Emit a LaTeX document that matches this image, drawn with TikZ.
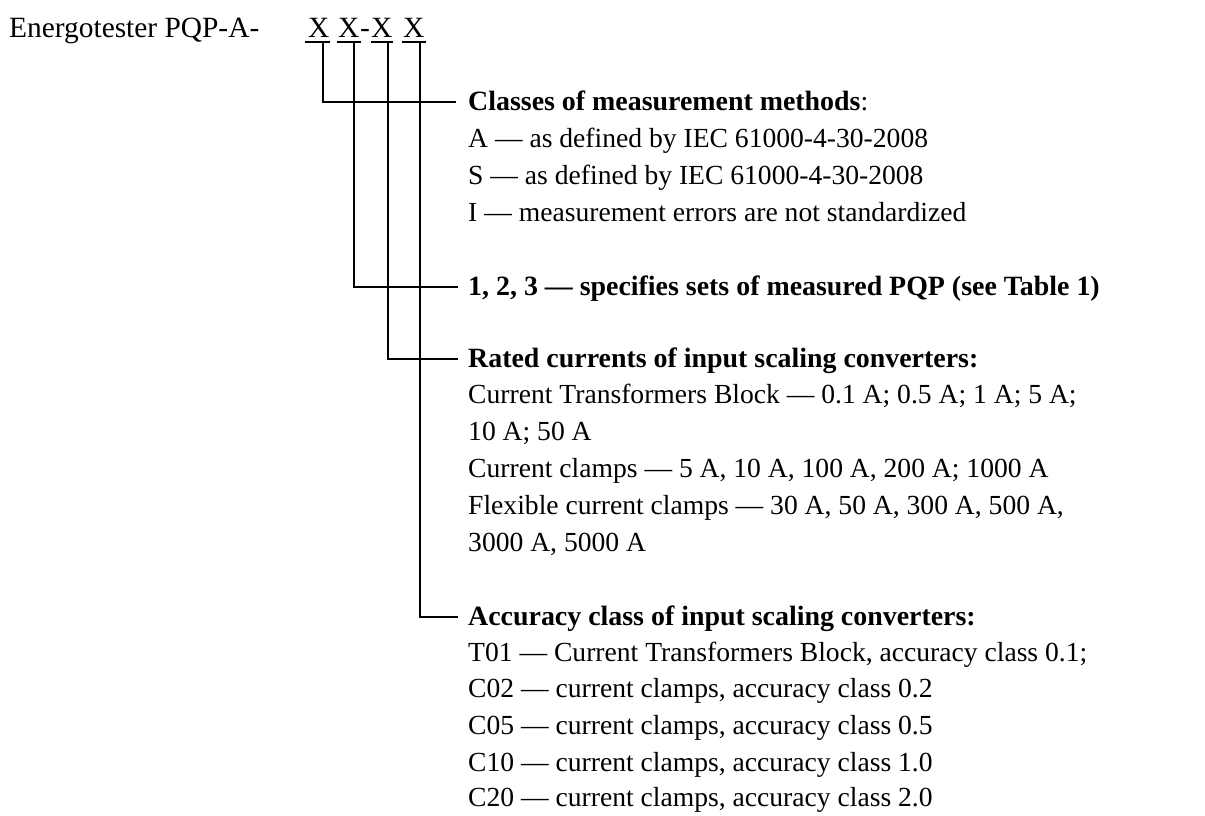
\documentclass[tikz,border=0pt]{standalone}
\usepackage{fontspec}
\setmainfont{Liberation Serif}
\begin{document}
\begin{tikzpicture}[x=1pt,y=-1pt,
  txt/.style={anchor=base west,inner sep=0pt,font=\fontsize{27.6}{33}\selectfont},
  big/.style={anchor=base west,inner sep=0pt,font=\fontsize{29.4}{35}\selectfont},
  hdr/.style={anchor=base west,inner sep=0pt,font=\fontsize{27.9}{33}\selectfont\bfseries},
  conn/.style={line width=1.6pt},
  uline/.style={line width=1.4pt}]
\useasboundingbox[fill=white] (0,0) rectangle (1205,815);

% title line
\node[big] (title) at (9,37) {Energotester PQP-A-};
\node[big] (x1) at (308,37) {X};
\node[big] (x2) at (338,37) {X};
\node[big] (hy) at (360,37) {-};
\node[big] (x3) at (371,37) {X};
\node[big] (x4) at (403,37) {X};

% underlines
\draw[uline] (305,42) -- (330,42);
\draw[uline] (337,42) -- (361,42);
\draw[uline] (371,42) -- (393,42);
\draw[uline] (402,42) -- (426,42);

\coordinate (t1) at (323,42);
\coordinate (t2) at (354,42);
\coordinate (t3) at (388,42);
\coordinate (t4) at (420,42);

% block 1
\node[hdr] (h1) at (468,110) {Classes of measurement methods\textmd{:}};
\node[txt] (a1) at (468,147) {A — as defined by IEC 61000-4-30-2008};
\node[txt] (a2) at (468,184) {S — as defined by IEC 61000-4-30-2008};
\node[txt] (a3) at (468,221) {I — measurement errors are not standardized};

% block 2
\node[hdr] (h2) at (468,295) {1, 2, 3 — specifies sets of measured PQP (see Table 1)};

% block 3
\node[hdr] (h3) at (468,367) {Rated currents of input scaling converters:};
\node[txt] (b1) at (468,403) {Current Transformers Block — 0.1 A; 0.5 A; 1 A; 5 A;};
\node[txt] (b2) at (468,440) {10 A; 50 A};
\node[txt] (b3) at (468,477) {Current clamps — 5 A, 10 A, 100 A, 200 A; 1000 A};
\node[txt] (b4) at (468,514) {Flexible current clamps — 30 A, 50 A, 300 A, 500 A,};
\node[txt] (b5) at (468,551) {3000 A, 5000 A};

% block 4
\node[hdr] (h4) at (468,625) {Accuracy class of input scaling converters:};
\node[txt] (c1) at (468,661) {T01 — Current Transformers Block, accuracy class 0.1;};
\node[txt] (c2) at (468,697) {C02 — current clamps, accuracy class 0.2};
\node[txt] (c3) at (468,734) {C05 — current clamps, accuracy class 0.5};
\node[txt] (c4) at (468,771) {C10 — current clamps, accuracy class 1.0};
\node[txt] (c5) at (468,806) {C20 — current clamps, accuracy class 2.0};

% connectors
\draw[conn] (t1) |- ([xshift=-12pt,yshift=8pt]h1.base west);
\draw[conn] (t2) |- ([xshift=-10pt,yshift=8pt]h2.base west);
\draw[conn] (t3) |- ([xshift=-10pt,yshift=8pt]h3.base west);
\draw[conn] (t4) |- ([xshift=-10pt,yshift=8pt]h4.base west);
\end{tikzpicture}
\end{document}
